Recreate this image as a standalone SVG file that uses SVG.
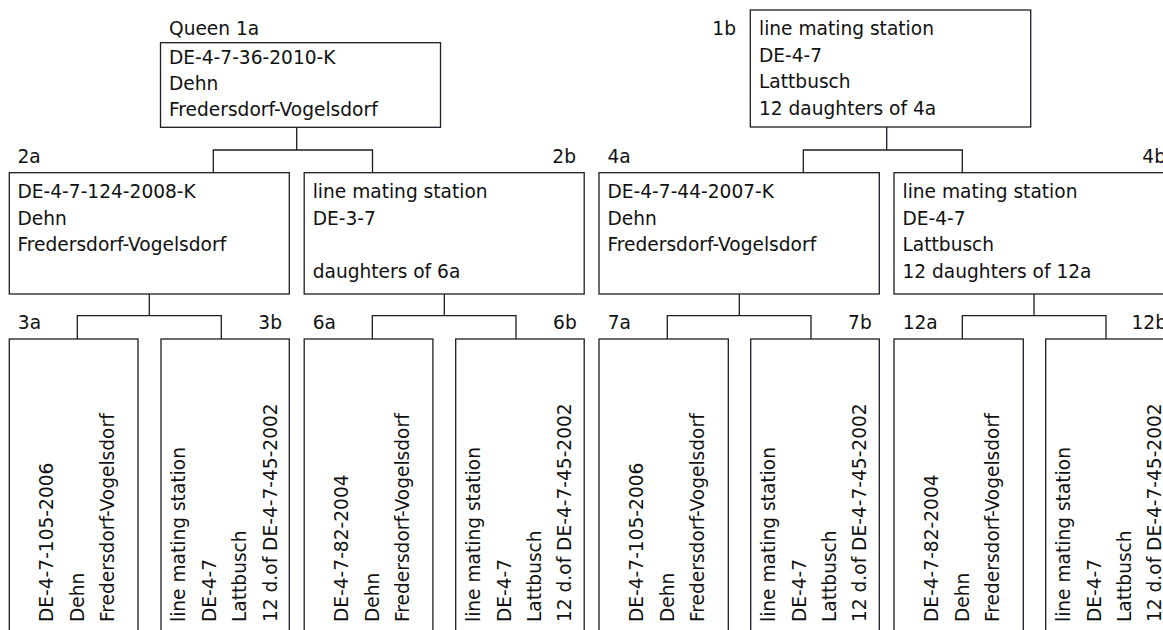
<svg xmlns="http://www.w3.org/2000/svg" width="1163" height="630" viewBox="0 0 1163 630">
<style>
  .box { fill: #fff; stroke: #1c1c26; stroke-width: 1.3; }
  .con { fill: none; stroke: #1c1c26; stroke-width: 1.3; }
  text { font-family: "DejaVu Sans", "Liberation Sans", sans-serif; font-size: 18.6px; fill: #111; }
  .end { text-anchor: end; }
</style>
<rect width="1163" height="630" fill="#fff"/>

<g id="connectors">
  <path class="con" d="M296.7,127.3 V150 M213.3,172.7 V150 H372.5 V172.7"/>
  <path class="con" d="M886.7,127 V150 M803.3,172.7 V150 H962.3 V172.7"/>
  <path class="con" d="M149.3,294 V315.7 M77.3,339 V315.7 H221.3 V339"/>
  <path class="con" d="M444.3,294 V315.7 M372.3,339 V315.7 H516 V339"/>
  <path class="con" d="M739.3,294 V315.7 M667.3,339 V315.7 H811 V339"/>
  <path class="con" d="M1034,294 V315.7 M962.3,339 V315.7 H1106 V339"/>
</g>

<g id="n1a">
  <text x="169" y="34.8">Queen 1a</text>
  <rect class="box" x="160.5" y="42.7" width="280" height="84.6"/>
  <text x="169" y="63.8">DE-4-7-36-2010-K</text>
  <text x="169" y="90.1">Dehn</text>
  <text x="169" y="116.2">Fredersdorf-Vogelsdorf</text>
</g>

<g id="n1b">
  <text class="end" x="736" y="35.3">1b</text>
  <rect class="box" x="750.3" y="10" width="280.4" height="117"/>
  <text x="759" y="35.3">line mating station</text>
  <text x="759" y="61.8">DE-4-7</text>
  <text x="759" y="88.3">Lattbusch</text>
  <text x="759" y="114.8">12 daughters of 4a</text>
</g>

<g id="n2a">
  <text x="17.5" y="162.7">2a</text>
  <rect class="box" x="9.3" y="172.7" width="280" height="121.3"/>
  <text x="17.5" y="198.3">DE-4-7-124-2008-K</text>
  <text x="17.5" y="224.7">Dehn</text>
  <text x="17.5" y="251.1">Fredersdorf-Vogelsdorf</text>
</g>

<g id="n2b">
  <text class="end" x="576" y="162.7">2b</text>
  <rect class="box" x="304.2" y="172.7" width="280" height="121.3"/>
  <text x="312.7" y="198.3">line mating station</text>
  <text x="312.7" y="224.7">DE-3-7</text>
  <text x="312.7" y="277.5">daughters of 6a</text>
</g>

<g id="n4a">
  <text x="607.5" y="162.7">4a</text>
  <rect class="box" x="599" y="172.7" width="280.3" height="121.3"/>
  <text x="607.5" y="198.3">DE-4-7-44-2007-K</text>
  <text x="607.5" y="224.7">Dehn</text>
  <text x="607.5" y="251.1">Fredersdorf-Vogelsdorf</text>
</g>

<g id="n4b">
  <text class="end" x="1166" y="162.7">4b</text>
  <rect class="box" x="894" y="172.7" width="280" height="121.3"/>
  <text x="902.5" y="198.3">line mating station</text>
  <text x="902.5" y="224.7">DE-4-7</text>
  <text x="902.5" y="251.1">Lattbusch</text>
  <text x="902.5" y="277.5">12 daughters of 12a</text>
</g>

<g id="n3a">
  <text x="17.8" y="329.3">3a</text>
  <rect class="box" x="9.3" y="339" width="128.7" height="300"/>
  <text transform="translate(53.3,622) rotate(-90)">DE-4-7-105-2006</text>
  <text transform="translate(83.7,622) rotate(-90)">Dehn</text>
  <text transform="translate(114.1,622) rotate(-90)">Fredersdorf-Vogelsdorf</text>
</g>

<g id="n3b">
  <text class="end" x="282" y="329.3">3b</text>
  <rect class="box" x="161" y="339" width="128.3" height="300"/>
  <text transform="translate(185.4,622) rotate(-90)">line mating station</text>
  <text transform="translate(215.8,622) rotate(-90)">DE-4-7</text>
  <text transform="translate(246.2,622) rotate(-90)">Lattbusch</text>
  <text transform="translate(276.6,622) rotate(-90)">12 d.of DE-4-7-45-2002</text>
</g>

<g id="n6a">
  <text x="312.7" y="329.3">6a</text>
  <rect class="box" x="304.2" y="339" width="128.7" height="300"/>
  <text transform="translate(348.2,622) rotate(-90)">DE-4-7-82-2004</text>
  <text transform="translate(378.6,622) rotate(-90)">Dehn</text>
  <text transform="translate(409,622) rotate(-90)">Fredersdorf-Vogelsdorf</text>
</g>

<g id="n6b">
  <text class="end" x="576.7" y="329.3">6b</text>
  <rect class="box" x="455.7" y="339" width="128.5" height="300"/>
  <text transform="translate(480.1,622) rotate(-90)">line mating station</text>
  <text transform="translate(510.5,622) rotate(-90)">DE-4-7</text>
  <text transform="translate(540.9,622) rotate(-90)">Lattbusch</text>
  <text transform="translate(571.3,622) rotate(-90)">12 d.of DE-4-7-45-2002</text>
</g>

<g id="n7a">
  <text x="607.7" y="329.3">7a</text>
  <rect class="box" x="599" y="339" width="129.3" height="300"/>
  <text transform="translate(643.1,622) rotate(-90)">DE-4-7-105-2006</text>
  <text transform="translate(673.5,622) rotate(-90)">Dehn</text>
  <text transform="translate(703.9,622) rotate(-90)">Fredersdorf-Vogelsdorf</text>
</g>

<g id="n7b">
  <text class="end" x="871.7" y="329.3">7b</text>
  <rect class="box" x="750.7" y="339" width="128.6" height="300"/>
  <text transform="translate(775.1,622) rotate(-90)">line mating station</text>
  <text transform="translate(805.5,622) rotate(-90)">DE-4-7</text>
  <text transform="translate(835.9,622) rotate(-90)">Lattbusch</text>
  <text transform="translate(866.3,622) rotate(-90)">12 d.of DE-4-7-45-2002</text>
</g>

<g id="n12a">
  <text x="902.7" y="329.3">12a</text>
  <rect class="box" x="894" y="339" width="129.3" height="300"/>
  <text transform="translate(938.1,622) rotate(-90)">DE-4-7-82-2004</text>
  <text transform="translate(968.5,622) rotate(-90)">Dehn</text>
  <text transform="translate(998.9,622) rotate(-90)">Fredersdorf-Vogelsdorf</text>
</g>

<g id="n12b">
  <text class="end" x="1167" y="329.3">12b</text>
  <rect class="box" x="1045.7" y="339" width="128.5" height="300"/>
  <text transform="translate(1070.1,622) rotate(-90)">line mating station</text>
  <text transform="translate(1100.5,622) rotate(-90)">DE-4-7</text>
  <text transform="translate(1130.9,622) rotate(-90)">Lattbusch</text>
  <text transform="translate(1161.3,622) rotate(-90)">12 d.of DE-4-7-45-2002</text>
</g>
</svg>
